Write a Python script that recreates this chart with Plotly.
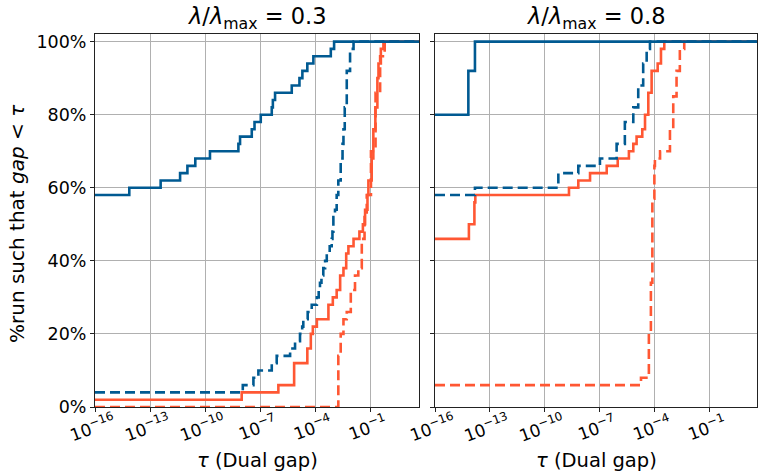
import plotly.graph_objects as go

# ---------------- data (x given as log10(tau), y in % of runs) ----------------
# lambda/lambda_max = 0.3
l03_blue_solid_logtau = [-16, -14.13, -12.42, -11.36, -10.96, -10.53, -9.73, -8.18, -8.09, -7.45, -7.3, -6.96,
                         -6.36, -6.3, -6.18, -5.27, -4.85, -4.69, -4.42, -4.09, -3.14, -2.96, 1.67]
l03_blue_solid_pct = [58, 60, 62, 64, 66, 68, 70, 72, 74, 76, 78, 80,
                      82, 84, 86, 88, 90, 92, 94, 96, 98, 100, 100]

l03_blue_dash_logtau = [-16, -7.94, -7.36, -7.09, -6.36, -6.09, -5.36, -5.09, -4.82, -4.7, -4.64, -4.4, -4.18,
                        -3.9, -3.8, -3.73, -3.65, -3.55, -3.45, -3.36, -3.2, -3.09, -3.05, -3.0, -2.91,
                        -2.82, -2.73, -2.6, -2.5, -2.45, -2.38, -2.27, -2.09, -1.9, 1.67]
l03_blue_dash_pct = [4, 6, 8, 10, 12, 14, 16, 18, 20, 22, 24, 26, 28,
                     30, 32, 34, 36, 38, 40, 42, 44, 46, 48, 52, 54,
                     58, 62, 68, 72, 76, 82, 92, 98, 100, 100]

l03_orange_solid_logtau = [-16, -8.0, -6.0, -5.14, -4.42, -4.23, -4.12, -3.9, -3.27, -3.03, -2.82, -2.63, -2.45,
                           -2.3, -2.18, -1.9, -1.58, -1.39, -1.27, -1.14, -1.09, -0.91, -0.82, -0.71, -0.6,
                           -0.54, -0.41, -0.27, 1.67]
l03_orange_solid_pct = [2, 4, 6, 12, 16, 20, 22, 24, 28, 30, 32, 36, 38,
                        42, 44, 46, 48, 50, 54, 58, 62, 68, 76, 82, 90,
                        94, 98, 100, 100]

l03_orange_dash_logtau = [-16, -2.73, -2.6, -2.45, -2.27, -2.05, -1.82, -1.64, -1.45, -1.3, -1.18, -0.95,
                          -0.7, -0.45, -0.2, 1.67]
l03_orange_dash_pct = [0, 14, 20, 24, 26, 32, 36, 38, 46, 52, 58, 70,
                       86, 96, 100, 100]

# lambda/lambda_max = 0.8
l08_blue_solid_logtau = [-16, -14.18, -13.82, 1.57]
l08_blue_solid_pct = [80, 92, 100, 100]

l08_blue_dash_logtau = [-16, -13.82, -9.27, -8.18, -7.0, -6.09, -5.64, -5.18, -4.91, -4.64, -4.45, -4.27, 1.57]
l08_blue_dash_pct = [58, 60, 64, 66, 68, 72, 78, 82, 88, 94, 98, 100, 100]

l08_orange_solid_logtau = [-16, -14.15, -13.85, -13.8, -8.69, -8.18, -7.54, -6.63, -6.03, -5.42, -5.18, -5.0,
                           -4.69, -4.54, -4.36, -4.18, -3.85, -3.67, -3.49, 1.57]
l08_orange_solid_pct = [46, 50, 56, 58, 60, 62, 64, 66, 68, 70, 72, 74,
                        76, 80, 86, 92, 94, 98, 100, 100]

l08_orange_dash_logtau = [-16, -4.76, -4.33, -4.22, -4.14, -4.03, -4.0, -3.72, -3.18, -3.0, -2.82, -2.64,
                          -2.4, -2.35]
l08_orange_dash_pct = [6, 8, 20, 34, 57, 66, 68, 70, 76, 85, 92, 98,
                       100, 100]

tick_exponents = [-16, -13, -10, -7, -4, -1]
y_ticks = [0, 20, 40, 60, 80, 100]
panel_titles = ["<i>λ</i>/<i>λ</i><sub>max</sub> = 0.3", "<i>λ</i>/<i>λ</i><sub>max</sub> = 0.8"]

# ---------------- styles ----------------
BLUE = "#005A92"
ORANGE = "#FF5733"
DASH = "10px,5px"
W = 758
H = 471
FONT = "DejaVu Sans"

fig = go.Figure()


def add(logtau, pct, color, dash, xa, ya):
    fig.add_trace(go.Scatter(
        x=[10 ** v for v in logtau], y=pct, mode="lines",
        line=dict(color=color, width=2.6, dash=dash, shape="hv"),
        xaxis=xa, yaxis=ya, showlegend=False, hoverinfo="skip"))


add(l03_orange_dash_logtau, l03_orange_dash_pct, ORANGE, DASH, "x", "y")
add(l03_orange_solid_logtau, l03_orange_solid_pct, ORANGE, "solid", "x", "y")
add(l03_blue_dash_logtau, l03_blue_dash_pct, BLUE, DASH, "x", "y")
add(l03_blue_solid_logtau, l03_blue_solid_pct, BLUE, "solid", "x", "y")

add(l08_orange_dash_logtau, l08_orange_dash_pct, ORANGE, DASH, "x2", "y2")
add(l08_orange_solid_logtau, l08_orange_solid_pct, ORANGE, "solid", "x2", "y2")
add(l08_blue_dash_logtau, l08_blue_dash_pct, BLUE, DASH, "x2", "y2")
add(l08_blue_solid_logtau, l08_blue_solid_pct, BLUE, "solid", "x2", "y2")

tickvals = [10.0 ** e for e in tick_exponents]

xcommon = dict(type="log", tickvals=tickvals, showticklabels=False,
               showgrid=True, gridcolor="#b0b0b0", gridwidth=1,
               showline=True, linecolor="#222", linewidth=1, mirror=True,
               ticks="outside", ticklen=4, tickcolor="#222",
               zeroline=False, automargin=False)
ycommon = dict(range=[0, 102], tickvals=y_ticks, ticktext=["%d%%" % v for v in y_ticks],
               showgrid=True, gridcolor="#b0b0b0", gridwidth=1,
               showline=True, linecolor="#222", linewidth=1, mirror=True,
               ticks="outside", ticklen=4, tickcolor="#222",
               tickfont=dict(family=FONT, size=17.5, color="#000"), zeroline=False, automargin=False)

ydom = [1 - 407 / H, 1 - 34.3 / H]
fig.update_layout(
    width=W, height=H, margin=dict(l=0, r=0, t=0, b=0, autoexpand=False),
    paper_bgcolor="white", plot_bgcolor="white",
    font=dict(family=FONT, color="#000"),
    xaxis=dict(xcommon, domain=[95 / W, 419 / W], range=[-16, 1.67], anchor="y"),
    xaxis2=dict(xcommon, domain=[435 / W, 757 / W], range=[-16, 1.57], anchor="y2"),
    yaxis=dict(ycommon, domain=ydom, anchor="x"),
    yaxis2=dict(ycommon, domain=ydom, anchor="x2", showticklabels=False),
)

# rotated x tick labels (matplotlib style, centred under each tick)
for xref in ["x", "x2"]:
    for e in tick_exponents:
        fig.add_annotation(text="10<sup>−%d</sup>" % (-e), x=e, y=1 - 427 / H, xref=xref, yref="paper",
                           showarrow=False, textangle=-20, xshift=-3,
                           font=dict(family=FONT, size=17, color="#000"),
                           xanchor="center", yanchor="middle")

for title, cx in zip(panel_titles, [(95 + 419) / 2, (435 + 757) / 2]):
    fig.add_annotation(text=title, x=cx / W, y=1 - 18 / H, xref="paper", yref="paper",
                       showarrow=False, font=dict(family=FONT, size=22.5), xanchor="center", yanchor="middle")
    fig.add_annotation(text="<i>τ</i> (Dual gap)", x=cx / W, y=1 - 460 / H, xref="paper", yref="paper",
                       showarrow=False, font=dict(family=FONT, size=19.5), xanchor="center", yanchor="middle")

fig.add_annotation(text="%run such that <i>gap</i> < <i>τ</i>", x=17 / W, y=1 - 224 / H,
                   xref="paper", yref="paper", showarrow=False, textangle=-90,
                   font=dict(family=FONT, size=20), xanchor="center", yanchor="middle")

fig.write_html("out.html", config={"displayModeBar": False},
               post_script="document.body.style.margin='0';document.body.style.overflow='hidden';")
